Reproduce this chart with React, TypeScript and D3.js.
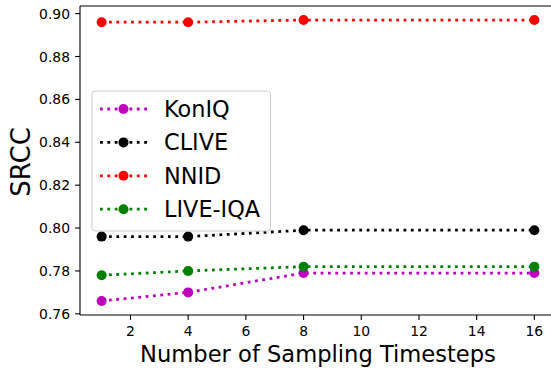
import * as d3 from "d3";

const WIDTH = 551;
const HEIGHT = 371;
const MARGIN = { top: 6, right: -5, bottom: 56, left: 80 };

const timesteps = [1, 4, 8, 16];
const seriesNames = ["KonIQ", "CLIVE", "NNID", "LIVE-IQA"];
const seriesColors = ["#bf00bf", "#000000", "#ff0000", "#008000"];
const konIQ = [0.766, 0.77, 0.779, 0.779];
const clive = [0.796, 0.796, 0.799, 0.799];
const nnid = [0.896, 0.896, 0.897, 0.897];
const liveIQA = [0.778, 0.78, 0.782, 0.782];
const xTicks = [2, 4, 6, 8, 10, 12, 14, 16];
const yTicks = [0.76, 0.78, 0.8, 0.82, 0.84, 0.86, 0.88, 0.9];

const FONT = "DejaVu Sans, sans-serif";
const LW = 2.78;
const DASH = `${LW} ${LW * 1.65}`;

export default function App() {
  const boundsWidth = WIDTH - MARGIN.left - MARGIN.right;
  const boundsHeight = HEIGHT - MARGIN.top - MARGIN.bottom;
  const values = [konIQ, clive, nnid, liveIQA];

  const xScale = d3.scaleLinear().domain([0.25, 16.75]).range([0, boundsWidth]);
  const allVals = values.flat();
  const yMin = d3.min(allVals)!;
  const yMax = d3.max(allVals)!;
  const pad = (yMax - yMin) * 0.05;
  const yScale = d3
    .scaleLinear()
    .domain([yMin - pad, yMax + pad])
    .range([boundsHeight, 0]);

  const line = d3
    .line<[number, number]>()
    .x((d) => xScale(d[0]))
    .y((d) => yScale(d[1]));

  const legendX = 92 - MARGIN.left;
  const legendY = 91 - MARGIN.top;

  return (
    <svg
      width={WIDTH}
      height={HEIGHT}
      style={{ position: "absolute", left: 0, top: 0, background: "#fff" }}
    >
      <g transform={`translate(${MARGIN.left},${MARGIN.top})`}>
        {values.map((vals, i) => {
          const pts = timesteps.map((t, j) => [t, vals[j]] as [number, number]);
          return (
            <g key={seriesNames[i]}>
              <path
                d={line(pts)!}
                fill="none"
                stroke={seriesColors[i]}
                strokeWidth={LW}
                strokeDasharray={DASH}
              />
              {pts.map((p, j) => (
                <circle
                  key={j}
                  cx={xScale(p[0])}
                  cy={yScale(p[1])}
                  r={5}
                  fill={seriesColors[i]}
                />
              ))}
            </g>
          );
        })}

        {/* spines */}
        <line x1={0} x2={0} y1={0} y2={boundsHeight} stroke="#000" strokeWidth={1.1} />
        <line x1={0} x2={boundsWidth} y1={boundsHeight} y2={boundsHeight} stroke="#000" strokeWidth={1.1} />
        <line x1={0} x2={boundsWidth} y1={0} y2={0} stroke="#000" strokeWidth={1.1} />
        <line x1={boundsWidth} x2={boundsWidth} y1={0} y2={boundsHeight} stroke="#000" strokeWidth={1.1} />

        {/* y axis */}
        {yTicks.map((t) => (
          <g key={t} transform={`translate(0,${yScale(t)})`}>
            <line x1={-4.9} x2={0} stroke="#000" strokeWidth={1.1} />
            <text
              x={-10}
              dy="0.36em"
              textAnchor="end"
              fontFamily={FONT}
              fontSize={13.9}
            >
              {t.toFixed(2)}
            </text>
          </g>
        ))}

        {/* x axis */}
        {xTicks.map((t) => (
          <g key={t} transform={`translate(${xScale(t)},${boundsHeight})`}>
            <line y1={0} y2={4.9} stroke="#000" strokeWidth={1.1} />
            <text
              y={21}
              textAnchor="middle"
              fontFamily={FONT}
              fontSize={13.9}
            >
              {t}
            </text>
          </g>
        ))}

        {/* legend */}
        <rect
          x={legendX}
          y={legendY}
          width={178.5}
          height={140}
          rx={3}
          fill="#fff"
          fillOpacity={0.8}
          stroke="#cccccc"
          strokeWidth={1}
        />
        {seriesNames.map((name, i) => {
          const cy = legendY + 18 + i * 33.4;
          return (
            <g key={name}>
              <line
                x1={legendX + 8}
                x2={legendX + 55}
                y1={cy}
                y2={cy}
                stroke={seriesColors[i]}
                strokeWidth={LW}
                strokeDasharray={DASH}
              />
              <circle cx={legendX + 31.5} cy={cy} r={5} fill={seriesColors[i]} />
              <text
                x={legendX + 72}
                y={cy}
                dy="0.36em"
                fontFamily={FONT}
                fontSize={22.4}
              >
                {name}
              </text>
            </g>
          );
        })}
      </g>

      <text
        x={MARGIN.left + boundsWidth / 2}
        y={362}
        textAnchor="middle"
        fontFamily={FONT}
        fontSize={22.6}
      >
        Number of Sampling Timesteps
      </text>
      <text
        transform={`translate(30,162) rotate(-90)`}
        textAnchor="middle"
        fontFamily={FONT}
        fontSize={26}
      >
        SRCC
      </text>
    </svg>
  );
}
